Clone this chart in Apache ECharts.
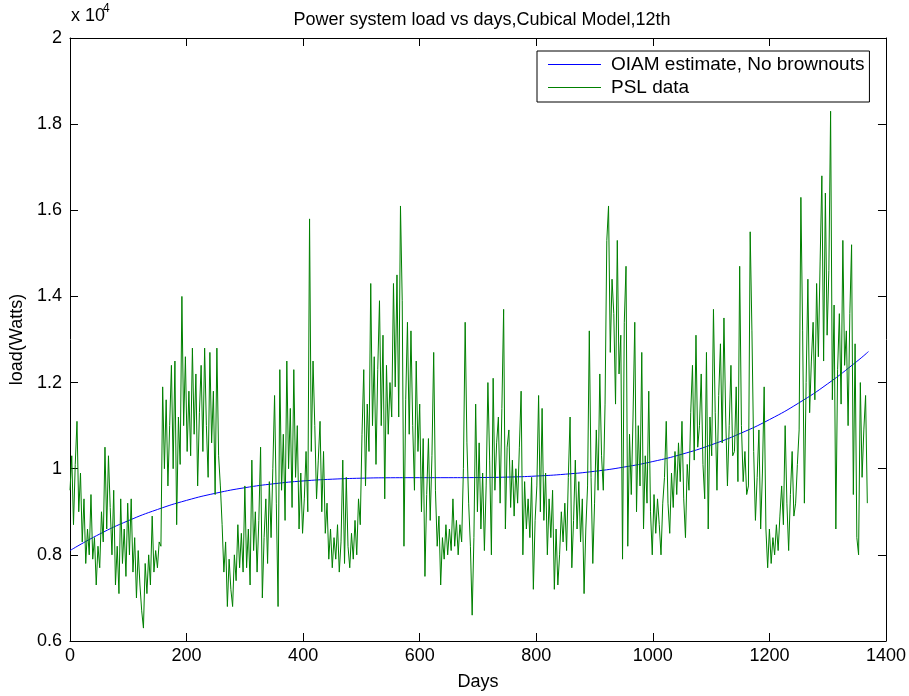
<!DOCTYPE html>
<html><head><meta charset="utf-8">
<script src="https://cdn.jsdelivr.net/npm/echarts@6/dist/echarts.min.js"></script>
<style>html,body{margin:0;padding:0;background:#fff}#c{width:909px;height:696px}</style>
</head><body><div id="c"></div>
<script>
const titleText = 'Power system load vs days,Cubical Model,12th';
const seriesNames = ['OIAM estimate, No brownouts', 'PSL data'];
const xAxisName = 'Days';
const yAxisName = 'load(Watts)';
const xTicks = [0, 200, 400, 600, 800, 1000, 1200, 1400];
const yTicks = [6000, 8000, 10000, 12000, 14000, 16000, 18000, 20000];

// OIAM cubic estimate, read every 50 days
const estDays = [0,50,100,150,200,250,300,350,400,450,500,550,600,650,700,750,800,850,900,950,1000,1050,1100,1150,1200,1250,1300,1350,1370];
const estLoad = [8100,8477,8793,9053,9265,9431,9559,9651,9716,9757,9780,9790,9792,9792,9795,9805,9830,9873,9940,10037,10167,10337,10553,10819,11140,11523,11972,12491,12720];

// PSL data, read every 3 days starting at day 0
const pslStartDay = 0;
const pslStepDays = 3;
const pslLoad = [
9500,10300,8700,10100,11100,9000,9900,8300,9300,7800,8600,8000,9400,7900,8400,7300,8200,7700,9000,8300,
10500,8600,10300,9100,8000,9500,7300,8200,7100,9300,7800,8600,7500,9200,8000,9300,7600,8400,7000,8100,
7300,6700,6300,7800,7100,8000,7300,8900,7600,8100,7700,8300,8200,11900,10000,11600,9600,11000,12400,10000,
12500,8700,11200,10100,14000,11000,12600,10400,11800,10300,12800,10800,12200,9600,11300,12400,10400,12800,11000,9800,
12700,10600,11800,9400,12800,10300,9600,8700,7600,8300,6800,7900,7200,6800,8000,7400,8700,7700,8500,7600,
9600,7700,8600,7300,10200,8100,9000,7600,8800,10500,7000,8400,9300,7800,9700,8400,10000,11700,9200,6800,
12300,9500,10800,8800,12500,10000,11400,9100,12300,9800,11000,8600,9900,8500,9300,10400,9000,15800,10400,12500,
11000,9300,10200,11100,9000,10400,8500,9200,7900,8600,7700,8400,7900,8700,7600,8300,10200,7800,9800,8200,
7700,8500,7900,8800,8000,9300,8700,10800,12300,9600,11500,10400,14300,11000,12600,10100,12300,13900,11000,13100,
9300,12400,10800,12000,11200,14300,11900,14500,11200,16100,13900,8200,11600,13400,10800,13200,11000,9500,12500,10400,
11500,9000,10700,7500,9400,10700,8800,10300,12700,9500,8200,8900,7300,8400,7900,8700,8000,8600,8100,9300,
8200,8800,8000,8700,8300,10000,13400,10600,9200,8200,6600,8400,11500,9000,10600,8600,9900,8100,9600,12000,
10200,8000,12100,9500,10600,11200,9200,11400,13700,8600,10500,10900,9100,10200,8900,10000,9200,10500,11800,8000,
9700,8600,9300,8400,9800,7200,8800,9600,11700,9000,11400,8800,9900,8000,9300,8400,9500,7200,8600,7300,
8000,9000,8300,9200,8100,9800,11200,7700,8800,10200,8600,9700,8300,9300,7100,8600,9600,13200,9800,7800,
9200,10900,9500,12200,10300,9500,11500,15300,16100,12700,14400,13600,11500,15300,12200,13100,7900,13400,14700,8200,
10800,9400,11200,13400,9000,11000,9600,12700,8600,10300,9200,11800,9000,8000,9400,8500,9300,8700,8000,9200,
9800,11100,9200,8500,9900,9100,10400,9400,10600,9700,11100,9300,8400,10100,9500,11300,12400,10200,13100,10500,
11000,12200,10100,9300,12700,8600,11200,10300,13700,11300,9500,11700,12900,10600,13500,11200,9600,11000,12400,10300,
10400,11900,9700,14700,11000,9700,10400,9400,9600,15500,13200,10400,8800,9800,10900,8600,9900,11900,8600,7700,
8600,7800,8400,8000,8700,8100,8900,9600,8700,11000,9200,8100,9400,10400,8900,9200,10100,10900,16300,13200,
9200,12000,14400,11300,12500,13400,11600,14300,12600,14800,16800,12500,16400,13100,14600,18300,11600,13800,8600,12300,
13600,11500,15300,12400,13200,11000,13600,15200,9400,12900,8400,8000,12000,9800,10900,11700,9200
];

const FONT = "'Liberation Sans', Arial, Helvetica, sans-serif";
const estData = estDays.map((d, i) => [d, estLoad[i]]);
const pslData = pslLoad.map((v, i) => [pslStartDay + i * pslStepDays, v]);

const chart = echarts.init(document.getElementById('c'), null, {renderer: 'canvas'});
const axisCommon = {
  type: 'value', min: xTicks[0], max: xTicks[xTicks.length - 1], interval: xTicks[1] - xTicks[0],
  axisLine: {show: true, onZero: false, lineStyle: {color: '#000', width: 1}},
  axisTick: {show: true, inside: true, length: 8, lineStyle: {color: '#000'}},
  splitLine: {show: false}
};
const yCommon = {
  type: 'value', min: yTicks[0], max: yTicks[yTicks.length - 1], interval: yTicks[1] - yTicks[0],
  axisLine: {show: true, onZero: false, lineStyle: {color: '#000', width: 1}},
  axisTick: {show: true, inside: true, length: 8, lineStyle: {color: '#000'}},
  splitLine: {show: false}
};
chart.setOption({
  animation: false,
  backgroundColor: '#fff',
  textStyle: {fontFamily: FONT},
  title: {
    text: titleText, left: 477, top: 6, textAlign: 'center',
    textStyle: {fontFamily: FONT, fontSize: 18, fontWeight: 'normal', color: '#000'}
  },
  grid: {left: 70, right: 22, top: 38, bottom: 50},
  legend: {
    orient: 'vertical', left: 537, top: 51,
    data: seriesNames,
    icon: 'rect', itemWidth: 53, itemHeight: 1, itemGap: 4,
    padding: [4, 5, 5, 11],
    borderColor: '#000', borderWidth: 1, backgroundColor: '#fff',
    textStyle: {fontFamily: FONT, fontSize: 19, color: '#000', lineHeight: 19, padding: [0, 0, 0, 5]}
  },
  graphic: [
    {type: 'text', left: 71, top: 7, style: {text: 'x 10', font: '18px ' + FONT, fill: '#000'}},
    {type: 'text', left: 103, top: 3, style: {text: '4', font: '12px ' + FONT, fill: '#000'}}
  ],
  xAxis: [
    Object.assign({}, axisCommon, {
      position: 'bottom', name: xAxisName, nameLocation: 'middle', nameGap: 32,
      nameTextStyle: {fontFamily: FONT, fontSize: 18, color: '#000'},
      axisLabel: {color: '#000', fontFamily: FONT, fontSize: 18, margin: 6, formatter: v => String(v)}
    }),
    Object.assign({}, axisCommon, {position: 'top', axisLabel: {show: false}})
  ],
  yAxis: [
    Object.assign({}, yCommon, {
      position: 'left', name: yAxisName, nameLocation: 'middle', nameGap: 44, nameRotate: 90,
      nameTextStyle: {fontFamily: FONT, fontSize: 18, color: '#000'},
      axisLabel: {color: '#000', fontFamily: FONT, fontSize: 18, margin: 8,
        formatter: v => String(Math.round(v / 1000) / 10)}
    }),
    Object.assign({}, yCommon, {position: 'right', axisLabel: {show: false}})
  ],
  series: [
    {
      name: seriesNames[0], type: 'line', data: estData, smooth: true, showSymbol: false, symbol: 'none',
      lineStyle: {color: '#0000ff', width: 1}, itemStyle: {color: '#0000ff'}, z: 2
    },
    {
      name: seriesNames[1], type: 'line', data: pslData, showSymbol: false, symbol: 'none',
      lineStyle: {color: '#008000', width: 1}, itemStyle: {color: '#008000'}, z: 3
    }
  ]
});
</script>
</body></html>
